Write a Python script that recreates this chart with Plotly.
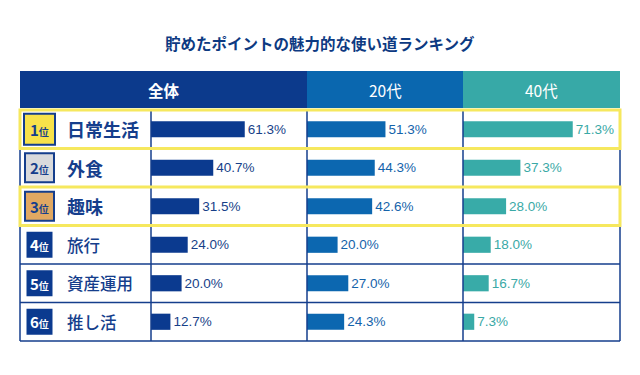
import plotly.graph_objects as go

# ---- data ----
categories = ["日常生活", "外食", "趣味", "旅行", "資産運用", "推し活"]
ranks = ["1", "2", "3", "4", "5", "6"]
groups = ["全体", "20代", "40代"]
values_all = [61.3, 40.7, 31.5, 24.0, 20.0, 12.7]
values_20s = [51.3, 44.3, 42.6, 20.0, 27.0, 24.3]
values_40s = [71.3, 37.3, 28.0, 18.0, 16.7, 7.3]
title_text = "貯めたポイントの魅力的な使い道ランキング"

# ---- layout geometry (pixels, window coordinates) ----
W, H = 640, 375
OFF = 8  # page body margin
def px(x): return (x - OFF) / W
def py(y): return 1 - (y - OFF) / H

LEFT, RIGHT = 20, 620
COL_DIVS = [151, 307, 463, 620]
HEAD_TOP, HEAD_BOT = 71, 108
ROW_TOP, ROW_H = 110, 38.5
N = len(categories)
ROW_BOT = ROW_TOP + ROW_H * N

NAVY = "#153e8c"
BAR_COLORS = ["#0b3a8f", "#0c67b0", "#38aba8"]
TEXT_COLORS = ["#173f88", "#1463aa", "#3aa9a6"]
HEAD_COLORS = ["#0c3a8c", "#0a67af", "#37a9a7"]
YELLOW = "#f6e85e"
BADGE_FILL = ["#f8e24a", "#d9dadc", "#e1a862"]
FONT = "Noto Sans CJK JP"
NUMFONT = "Liberation Sans, Noto Sans CJK JP"

fig = go.Figure()
series = [values_all, values_20s, values_40s]
axes = ["x", "x2", "x3"]
for i, vals in enumerate(series):
    fig.add_trace(go.Bar(
        x=vals, y=categories, orientation="h",
        xaxis=axes[i], yaxis="y",
        marker=dict(color=BAR_COLORS[i], line=dict(width=0)),
        texttemplate="%{x:.1f}%", textposition="outside",
        textfont=dict(family=NUMFONT, size=13.5, color=TEXT_COLORS[i]),
        cliponaxis=False, hoverinfo="skip", showlegend=False,
    ))

shapes = []
annotations = []

# header blocks
head_spans = [(LEFT, COL_DIVS[1]), (COL_DIVS[1], COL_DIVS[2]), (COL_DIVS[2], COL_DIVS[3])]
for i, (a, b) in enumerate(head_spans):
    shapes.append(dict(type="rect", xref="paper", yref="paper",
                       x0=px(a), x1=px(b), y0=py(HEAD_BOT), y1=py(HEAD_TOP),
                       fillcolor=HEAD_COLORS[i], line=dict(width=0), layer="below"))
    txt = f"<b>{groups[i]}</b>" if i == 0 else groups[i]
    annotations.append(dict(xref="paper", yref="paper", x=px((a + b) / 2),
                            y=py((HEAD_TOP + HEAD_BOT) / 2), text=txt, showarrow=False,
                            font=dict(family=FONT, size=15.5, color="white"),
                            xanchor="center", yanchor="middle"))

# row grid lines
for r in range(N + 1):
    yy = ROW_TOP + r * ROW_H
    shapes.append(dict(type="line", xref="paper", yref="paper",
                       x0=px(LEFT), x1=px(RIGHT), y0=py(yy), y1=py(yy),
                       line=dict(color=NAVY, width=1.5), layer="above"))
for xx in [LEFT] + COL_DIVS:
    shapes.append(dict(type="line", xref="paper", yref="paper",
                       x0=px(xx), x1=px(xx), y0=py(ROW_TOP), y1=py(ROW_BOT),
                       line=dict(color=NAVY, width=1.5), layer="above"))

# highlight boxes for 1st and 3rd
for r in (0, 2):
    y0 = ROW_TOP + r * ROW_H
    shapes.append(dict(type="rect", xref="paper", yref="paper",
                       x0=px(LEFT), x1=px(RIGHT), y0=py(y0 + ROW_H), y1=py(y0),
                       line=dict(color=YELLOW, width=3), fillcolor="rgba(0,0,0,0)",
                       layer="above"))

# rank badges and labels
for r in range(N):
    cy = ROW_TOP + r * ROW_H + ROW_H / 2
    if r < 3:
        half = 15.5 if r == 0 else 14.5
        shapes.append(dict(type="rect", xref="paper", yref="paper",
                           x0=px(39.5 - half), x1=px(39.5 + half), y0=py(cy + half), y1=py(cy - half),
                           fillcolor=BADGE_FILL[r], line=dict(color=NAVY, width=2), layer="above"))
        tcol = NAVY
    else:
        half = 13
        shapes.append(dict(type="rect", xref="paper", yref="paper",
                           x0=px(39.5 - half), x1=px(39.5 + half), y0=py(cy + half), y1=py(cy - half),
                           fillcolor="#0b3a8f", line=dict(width=0), layer="above"))
        tcol = "white"
    annotations.append(dict(xref="paper", yref="paper", x=px(39.5), y=py(cy),
                            text=f"<b>{ranks[r]}<span style='font-size:10px'>位</span></b>",
                            showarrow=False, xanchor="center", yanchor="middle",
                            font=dict(family=FONT, size=15, color=tcol)))
    if r < 3:
        lab = f"<b>{categories[r]}</b>"
        fs, wt = 18, "bold"
    else:
        lab = categories[r]
        fs, wt = 16.5, 500
    annotations.append(dict(xref="paper", yref="paper", x=px(65), y=py(cy),
                            text=lab, showarrow=False, xanchor="left", yanchor="middle",
                            font=dict(family=FONT, size=fs, color=NAVY, weight=wt)))

# title
annotations.append(dict(xref="paper", yref="paper", x=px(320), y=py(43),
                        text=f"<b>{title_text}</b>", showarrow=False,
                        xanchor="center", yanchor="middle",
                        font=dict(family=FONT, size=15.5, color="#0d3a82")))

xcommon = dict(range=[0, 102], visible=False, fixedrange=True)
fig.update_layout(
    width=W, height=H, margin=dict(l=0, r=0, t=0, b=0),
    paper_bgcolor="white", plot_bgcolor="rgba(0,0,0,0)",
    xaxis=dict(domain=[px(COL_DIVS[0]), px(COL_DIVS[1])], anchor="y", **xcommon),
    xaxis2=dict(domain=[px(COL_DIVS[1]), px(COL_DIVS[2])], anchor="y", **xcommon),
    xaxis3=dict(domain=[px(COL_DIVS[2]), px(COL_DIVS[3])], anchor="y", **xcommon),
    yaxis=dict(domain=[py(ROW_BOT), py(ROW_TOP)], categoryorder="array",
               categoryarray=categories, autorange="reversed", visible=False,
               fixedrange=True),
    bargap=0.58,
    shapes=shapes, annotations=annotations,
)

fig.write_html("out.html")
